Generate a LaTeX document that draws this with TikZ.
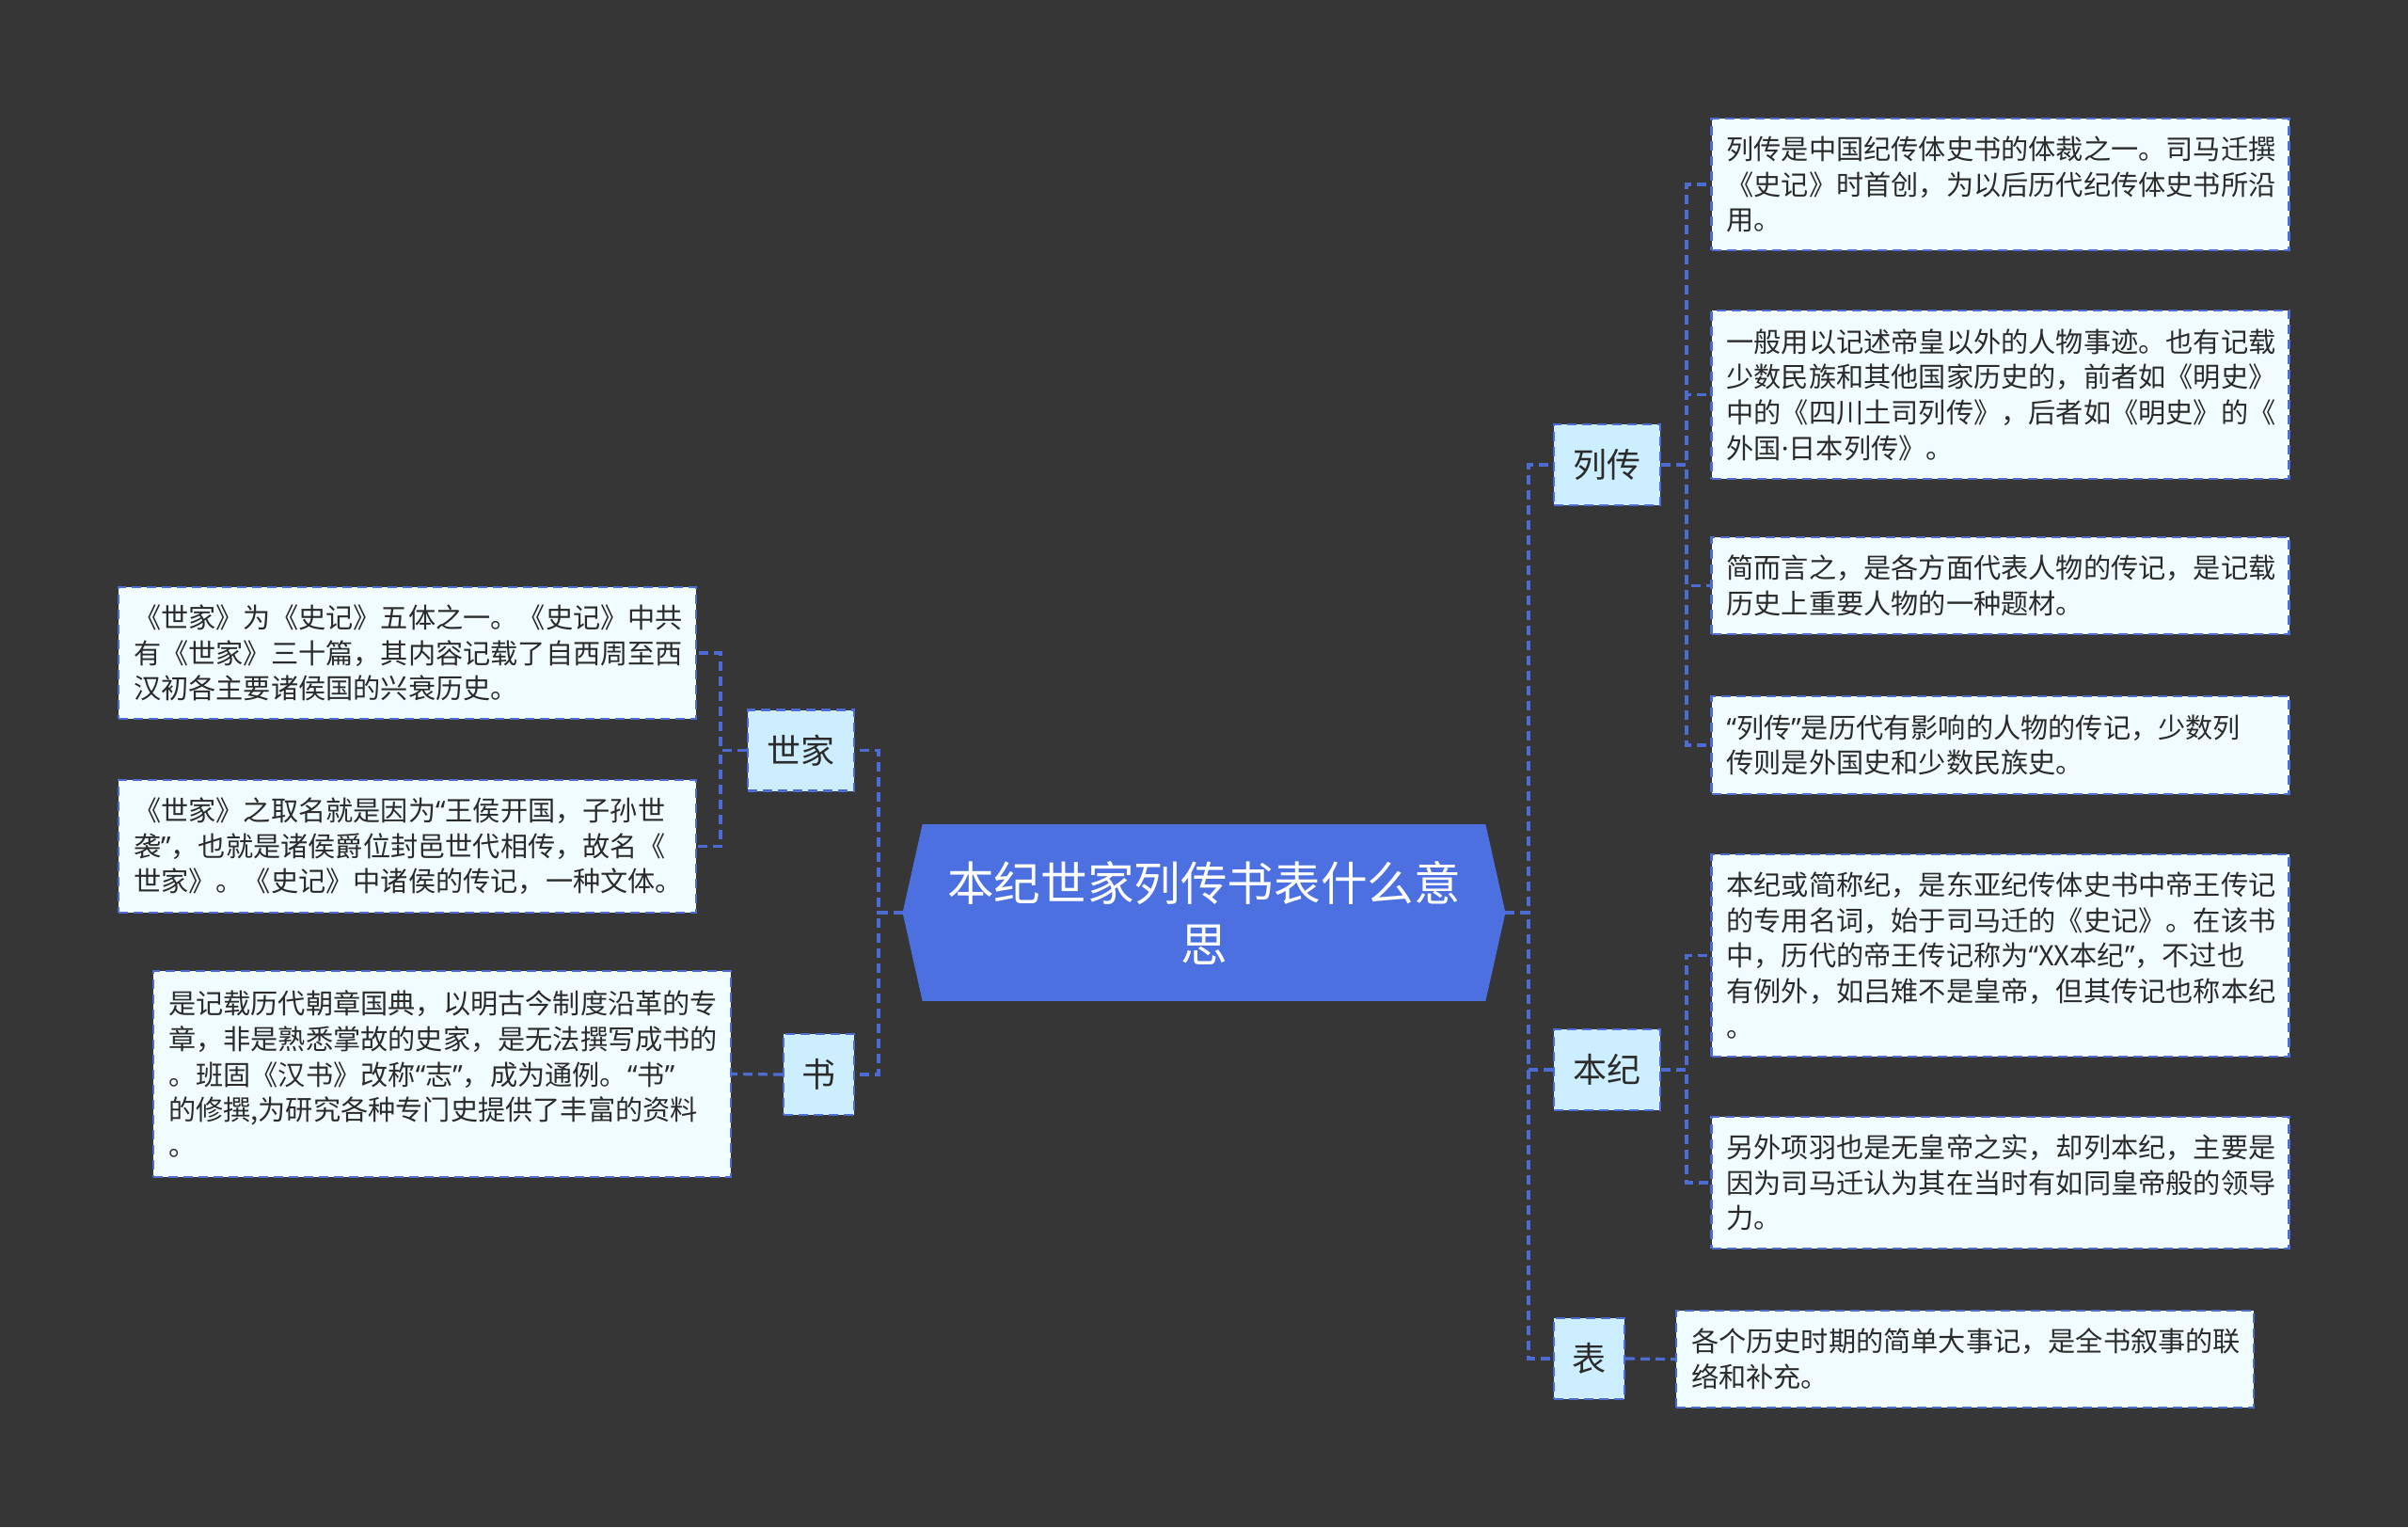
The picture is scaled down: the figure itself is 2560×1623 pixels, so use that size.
\documentclass[tikz,border=0pt]{standalone}
\usepackage{fontspec}
\setmainfont{Noto Sans CJK SC}
\newfontfamily\latf{Noto Sans}
\newcommand\oq{{\latf “}}
\newcommand\cq{{\latf ”}}
\newcommand\mdot{{\latf ·}}
\usetikzlibrary{calc}
\pgfdeclarelayer{bg}
\pgfdeclarelayer{lines}
\pgfsetlayers{bg,lines,main}
\definecolor{bgc}{HTML}{363636}
\definecolor{linec}{HTML}{4C6CD4}
\definecolor{centerc}{HTML}{4C70E0}
\definecolor{lvlc}{HTML}{CCEEFF}
\definecolor{leafc}{HTML}{F0FCFF}
\definecolor{txt}{HTML}{2B2B2B}
\begin{document}
\begin{tikzpicture}[x=0.5pt,y=-0.5pt,
  conn/.style={draw=linec, line width=1.6pt, dash pattern=on 5pt off 3pt},
  leaf/.style={draw=linec, line width=1.1pt, dash pattern=on 5pt off 3pt, fill=leafc, text=txt,
    text width=291pt, align=left, inner xsep=8pt, inner ysep=0pt,
    font=\fontsize{14.6}{18.8}\selectfont},
  lvl/.style={draw=linec, line width=1.1pt, dash pattern=on 5pt off 3pt, fill=lvlc, text=txt,
    inner sep=0pt, minimum height=43pt, font=\fontsize{18}{22}\selectfont},
  hub/.style={text=white, align=center, inner sep=0pt, minimum width=320pt, minimum height=93.5pt,
    font=\fontsize{24.8}{32.5}\selectfont}]
\useasboundingbox (0,0) rectangle (2560,1623);
\begin{pgfonlayer}{bg}
\fill[bgc] (0,0) rectangle (2560,1623);
\end{pgfonlayer}

% centre
\node[hub] (c) at (1280,970) {本纪世家列传书表什么意\\思};

% level 1
\node[lvl, minimum width=56.5pt] (lz) at (1708.5,494) {列传};
\node[lvl, minimum width=56.5pt] (bj) at (1708.5,1137) {本纪};
\node[lvl, minimum width=37.5pt] (bb) at (1689.5,1444) {表};
\node[lvl, minimum width=56.5pt] (sj) at (851.5,797.5) {世家};
\node[lvl, minimum width=37.5pt] (sh) at (870.5,1142) {书};

% leaves
\node[leaf, minimum height=70pt] (l1) at (2126.5,196) {列传是中国纪传体史书的体裁之一。司马迁撰\\《史记》时首创，为以后历代纪传体史书所沿\\用。};
\node[leaf, minimum height=89.5pt] (l2) at (2126.5,419.5) {一般用以记述帝皇以外的人物事迹。也有记载\\少数民族和其他国家历史的，前者如《明史》\\中的《四川土司列传》，后者如《明史》的《\\外国\mdot 日本列传》。};
\node[leaf, minimum height=51.5pt] (l3) at (2126.5,622.5) {简而言之，是各方面代表人物的传记，是记载\\历史上重要人物的一种题材。};
\node[leaf, minimum height=52pt] (l4) at (2126.5,792) {\oq 列传\cq 是历代有影响的人物的传记，少数列\\传则是外国史和少数民族史。};
\node[leaf, minimum height=107.5pt] (b1) at (2126.5,1015.5) {本纪或简称纪，是东亚纪传体史书中帝王传记\\的专用名词，始于司马迁的《史记》。在该书\\中，历代的帝王传记称为\oq XX本纪\cq ，不过也\\有例外，如吕雉不是皇帝，但其传记也称本纪\\。};
\node[leaf, minimum height=70pt] (b2) at (2126.5,1257) {另外项羽也是无皇帝之实，却列本纪，主要是\\因为司马迁认为其在当时有如同皇帝般的领导\\力。};
\node[leaf, minimum height=51.5pt] (t1) at (2089,1444.5) {各个历史时期的简单大事记，是全书叙事的联\\络和补充。};
\node[leaf, minimum height=70pt] (s1) at (433,694) {《世家》为《史记》五体之一。《史记》中共\\有《世家》三十篇，其内容记载了自西周至西\\汉初各主要诸侯国的兴衰历史。};
\node[leaf, minimum height=70.5pt] (s2) at (433,899.5) {《世家》之取名就是因为\oq 王侯开国，子孙世\\袭\cq ，也就是诸侯爵位封邑世代相传，故名《\\世家》。《史记》中诸侯的传记，一种文体。};
\node[leaf, minimum height=109.5pt] (h1) at (470,1141.5) {是记载历代朝章国典，以明古今制度沿革的专\\章，非是熟悉掌故的史家，是无法撰写成书的\\。班固《汉书》改称\oq 志\cq ，成为通例。\oq 书\cq \\的修撰,为研究各种专门史提供了丰富的资料\\。};

% trunk positions
\coordinate (tR) at (1625,0);
\coordinate (tL) at (934,0);
\coordinate (tLZ) at (1793,0);
\coordinate (tBJ) at (1793,0);
\coordinate (tSJ) at (766,0);

\begin{pgfonlayer}{lines}
\fill[centerc] (c.west) -- ($(c.north west)+(21,0)$) -- ($(c.north east)+(-21,0)$) -- (c.east)
  -- ($(c.south east)+(-21,0)$) -- ($(c.south west)+(21,0)$) -- cycle;
\draw[conn] (c.east) -- (c.east -| tR) |- (lz.west);
\draw[conn] (c.east) -- (c.east -| tR) |- (bj.west);
\draw[conn] (c.east) -- (c.east -| tR) |- (bb.west);
\draw[conn] (c.west) -- (c.west -| tL) |- (sj.east);
\draw[conn] (c.west) -- (c.west -| tL) |- (sh.east);
\foreach \k in {l1,l2,l3,l4}{\draw[conn] (lz.east) -- (lz.east -| tLZ) |- (\k.west);}
\foreach \k in {b1,b2}{\draw[conn] (bj.east) -- (bj.east -| tBJ) |- (\k.west);}
\draw[conn] (bb.east) -- (t1.west);
\foreach \k in {s1,s2}{\draw[conn] (sj.west) -- (sj.west -| tSJ) |- (\k.east);}
\draw[conn] (sh.west) -- (h1.east);
\end{pgfonlayer}
\end{tikzpicture}
\end{document}
